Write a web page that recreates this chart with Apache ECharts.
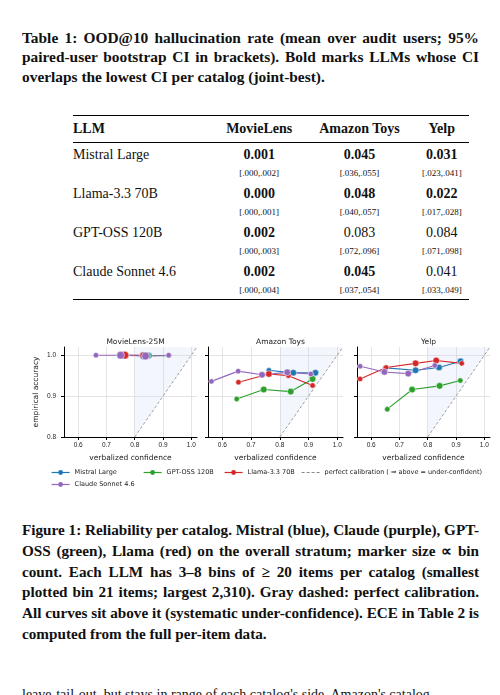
<!DOCTYPE html>
<html><head><meta charset="utf-8">
<script src="https://cdn.jsdelivr.net/npm/echarts@6/dist/echarts.min.js"></script>
<style>
body{margin:0;width:500px;height:695px;overflow:hidden;background:#fff;font-family:"Liberation Serif",serif;color:#111;position:relative}
.cap{position:absolute;left:22px;width:457px;font-weight:bold;font-size:15.4px;line-height:19.3px;text-align:justify}
table{position:absolute;left:73px;top:115px;width:396px;border-collapse:collapse;font-size:14px}
th{font-weight:bold;text-align:center;height:26px;padding:0}
td{text-align:center;padding:0}
td.n,th.n{text-align:left}
tr.v td{height:20px;vertical-align:bottom}
tr.c td{font-size:9px;height:19px}
#chart{position:absolute;left:0;top:325px;width:500px;height:165px}
</style></head><body>
<div class="cap" style="top:28px">Table 1: OOD@10 hallucination rate (mean over audit users; 95% paired-user bootstrap CI in brackets). Bold marks LLMs whose CI overlaps the lowest CI per catalog (joint-best).</div>
<table id="tbl"></table>
<div id="chart"></div>
<div class="cap" style="top:520px;line-height:20.8px;font-size:15.2px">Figure 1: Reliability per catalog. Mistral (blue), Claude (purple), GPT-OSS (green), Llama (red) on the overall stratum; marker size &prop; bin count. Each LLM has 3&ndash;8 bins of &ge; 20 items per catalog (smallest plotted bin 21 items; largest 2,310). Gray dashed: perfect calibration. All curves sit above it (systematic under-confidence). ECE in Table 2 is computed from the full per-item data.</div>
<div style="position:absolute;left:22px;top:687px;font-size:14px;width:460px;white-space:nowrap;overflow:hidden">leave-tail-out, but stays in range of each catalog's side. Amazon's catalog</div>
<script>
var llms = ["Mistral Large", "Llama-3.3 70B", "GPT-OSS 120B", "Claude Sonnet 4.6"];
var catalogs = ["MovieLens", "Amazon Toys", "Yelp"];
var rates = [["0.001","0.045","0.031"],["0.000","0.048","0.022"],["0.002","0.083","0.084"],["0.002","0.045","0.041"]];
var bold = [[1,1,1],[1,1,1],[1,0,0],[1,1,0]];
var cis = [["[.000,.002]","[.036,.055]","[.023,.041]"],["[.000,.001]","[.040,.057]","[.017,.028]"],["[.000,.003]","[.072,.096]","[.071,.098]"],["[.000,.004]","[.037,.054]","[.033,.049]"]];

var panels = ["MovieLens-25M", "Amazon Toys", "Yelp"];
var xTicks = [0.6, 0.7, 0.8, 0.9, 1.0];
var seriesNames = ["Mistral Large", "GPT-OSS 120B", "Llama-3.3 70B", "Claude Sonnet 4.6"];
var colors = ["#1f77b4", "#2ca02c", "#d62728", "#9467bd"];
// [confidence, accuracy, bin size]
var mistral = [
  [[0.75,0.999,3],[0.77,1.0,2],[0.83,0.999,4],[0.85,0.999,3]],
  [[0.762,0.963,2],[0.826,0.958,3],[0.847,0.957,3],[0.924,0.957,3]],
  [[0.65,0.969,2],[0.757,0.963,3],[0.84,0.970,3],[0.916,0.985,3]]
];
var gptoss = [
  [[0.845,0.999,3],[0.92,0.999,2]],
  [[0.65,0.893,2],[0.744,0.916,3],[0.838,0.911,3],[0.914,0.942,3]],
  [[0.657,0.868,2],[0.745,0.916,3],[0.842,0.925,3],[0.915,0.938,2]]
];
var llama = [
  [[0.765,1.0,4],[0.83,1.0,3],[0.84,0.999,2]],
  [[0.656,0.934,2],[0.762,0.954,3],[0.83,0.950,2],[0.914,0.926,2]],
  [[0.561,0.942,2],[0.653,0.970,2],[0.757,0.980,3],[0.83,0.987,3],[0.92,0.980,2]]
];
var claude = [
  [[0.663,1.0,2],[0.75,1.0,4],[0.838,0.998,4],[0.92,1.0,2]],
  [[0.562,0.936,2],[0.655,0.961,2],[0.738,0.952,3],[0.826,0.958,3],[0.908,0.954,2]],
  [[0.561,0.973,2],[0.647,0.959,3],[0.731,0.955,3],[0.825,0.975,2]]
];
var shade = [[0.8,0.8],[0.8,1.02],[1.02,1.02]];
var diag = [[0.78,0.78],[1.02,1.02]];

// table
var h = '<tr style="border-top:1px solid #000;border-bottom:1px solid #000"><th class="n">LLM</th>' +
  catalogs.map(function (c) { return "<th>" + c + "</th>"; }).join("") + "</tr>";
for (var i = 0; i < llms.length; i++) {
  h += '<tr class="v"><td class="n">' + llms[i] + "</td>";
  for (var j = 0; j < 3; j++) h += "<td" + (bold[i][j] ? ' style="font-weight:bold"' : "") + ">" + rates[i][j] + "</td>";
  h += '</tr><tr class="c"' + (i == llms.length - 1 ? ' style="border-bottom:1px solid #000"' : "") + "><td></td>";
  for (var j = 0; j < 3; j++) h += "<td>" + cis[i][j] + "</td>";
  h += "</tr>";
}
document.getElementById("tbl").innerHTML = h;

var chart = echarts.init(document.getElementById("chart"));
var lefts = [64, 208, 357], widths = [133, 135, 133];
var grids = [], xAxes = [], yAxes = [], series = [];
var allData = [mistral, gptoss, llama, claude];
for (var p = 0; p < 3; p++) {
  grids.push({ left: lefts[p], width: widths[p], top: 22, height: 90 });
  xAxes.push({
    gridIndex: p, type: "value", min: 0.55, max: 1.02,
    name: "verbalized confidence", nameLocation: "middle", nameGap: 17,
    nameTextStyle: { fontSize: 7.5, color: "#222", fontFamily: "DejaVu Sans" },
    axisLine: { lineStyle: { color: "#000", width: 1 } },
    axisTick: { length: 3, customValues: xTicks, lineStyle: { color: "#000" } },
    axisLabel: { fontSize: 6.5, color: "#222", margin: 5, customValues: xTicks, formatter: function (v) { return v.toFixed(1); } },
    splitLine: { show: true, lineStyle: { color: "#ddd", width: 0.8 } }
  });
  yAxes.push({
    gridIndex: p, type: "value", min: 0.8, max: 1.02,
    axisTick: { length: 3, customValues: [0.8, 0.9, 1.0], lineStyle: { color: "#000" } },
    axisLabel: { show: p == 0, fontSize: 6.5, color: "#222", customValues: [0.8, 0.9, 1.0], formatter: function (v) { return v.toFixed(1); } },
    name: p == 0 ? "empirical accuracy" : "", nameLocation: "middle", nameGap: 24,
    nameTextStyle: { fontSize: 7.5, color: "#222", fontFamily: "DejaVu Sans" },
    axisLine: { show: true, lineStyle: { color: "#000", width: 1 } },
    splitLine: { show: true, lineStyle: { color: "#ddd", width: 0.8 } }
  });
  series.push({
    type: "custom", xAxisIndex: p, yAxisIndex: p, silent: true, z: 1,
    data: [0],
    renderItem: function (params, api) {
      return { type: "polygon", shape: { points: shade.map(function (d) { return api.coord(d); }) },
        style: { fill: "rgba(190,210,245,0.18)" } };
    },
    clip: true
  });
  series.push({
    name: "perfect calibration ( ⇒ above = under-confident)", type: "line", xAxisIndex: p, yAxisIndex: p,
    data: diag, symbol: "none", clip: true, z: 2,
    lineStyle: { color: "#888", width: 0.8, type: [3, 2] }, itemStyle: { color: "#888" }
  });
  for (var s = 0; s < 4; s++) {
    series.push({
      name: seriesNames[s], type: "line", xAxisIndex: p, yAxisIndex: p, z: 3,
      data: allData[s][p].map(function (d) { return [d[0], d[1], d[2]]; }),
      symbol: "circle",
      symbolSize: function (v) { return 3 + v[2] * 1.2; },
      lineStyle: { color: colors[s], width: 1.1 },
      itemStyle: { color: colors[s], borderColor: "#fff", borderWidth: 0.5 }
    });
  }
}
var legText = { fontSize: 6.5, color: "#222", fontFamily: "DejaVu Sans" };
function leg(name, left, top, dashed) {
  return { data: [name], left: left, top: top, itemWidth: 18, itemHeight: 6, textStyle: legText,
    itemStyle: dashed ? { opacity: 0 } : { borderWidth: 0 },
    lineStyle: { type: dashed ? [3, 2] : "solid", width: 1.2 } };
}
chart.setOption({
  animation: false,
  title: panels.map(function (t, p) {
    return { text: t, left: lefts[p] + widths[p] / 2, top: 8, textAlign: "center",
      textStyle: { fontSize: 7.5, fontWeight: "normal", color: "#222", fontFamily: "DejaVu Sans" } };
  }),
  legend: [
    leg("Mistral Large", 46, 139),
    leg("GPT-OSS 120B", 138, 139),
    leg("Llama-3.3 70B", 219, 139),
    leg("perfect calibration ( ⇒ above = under-confident)", 296, 139, true),
    leg("Claude Sonnet 4.6", 46, 151)
  ],
  grid: grids, xAxis: xAxes, yAxis: yAxes, series: series
});
</script>
</body></html>
